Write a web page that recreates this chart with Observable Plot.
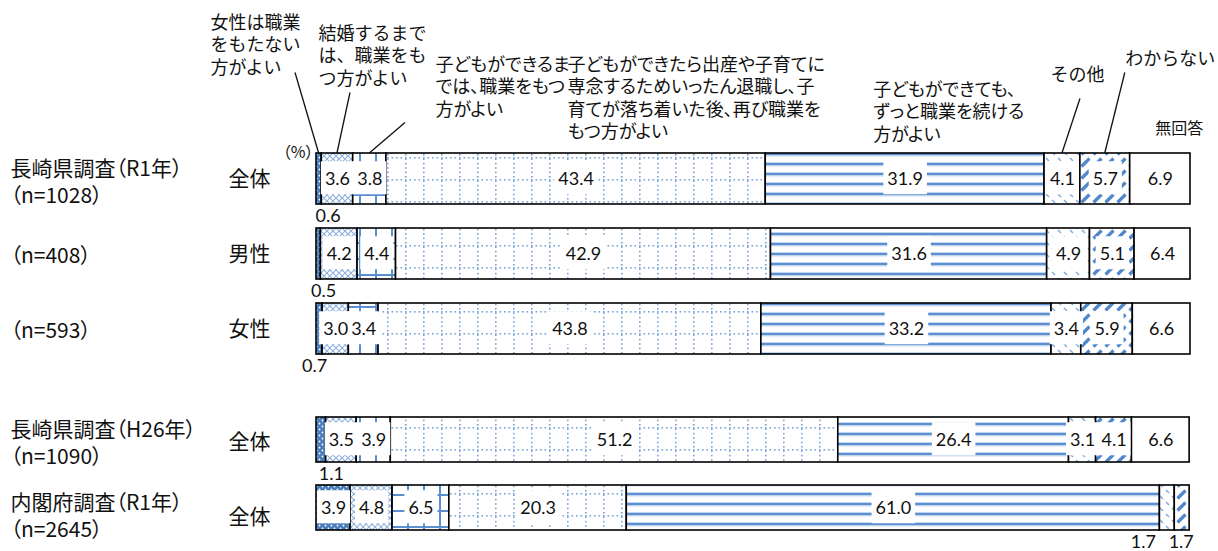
<!DOCTYPE html>
<html><head><meta charset="utf-8">
<script src="https://cdn.jsdelivr.net/npm/d3@7"></script>
<script src="https://cdn.jsdelivr.net/npm/@observablehq/plot@0.6"></script>
<style>
html,body{margin:0;padding:0;background:#fff;}
#chart{width:1218px;}
#chart svg{display:block;background:#fff;}
#chart svg text{font-feature-settings:"palt";}
#chart svg g[fill="#121212"] text{font-feature-settings:normal;}
</style></head><body>
<svg id="defs" width="0" height="0" style="position:absolute;left:0;top:0"></svg>
<div id="chart"></div>
<script>
// ---------------- data ----------------
const categories = [
  "女性は職業をもたない方がよい",
  "結婚するまでは、職業をもつ方がよい",
  "子どもができるまでは、職業をもつ方がよい",
  "子どもができたら出産や子育てに専念するためいったん退職し、子育てが落ち着いた後、再び職業をもつ方がよい",
  "子どもができても、ずっと職業を続ける方がよい",
  "その他",
  "わからない",
  "無回答"
];
const categoryLines = [
  "女性は職業\nをもたない\n方がよい",
  "結婚するまで\nは、職業をも\nつ方がよい",
  "子どもができるま\nでは、職業をもつ\n方がよい",
  "子どもができたら出産や子育てに\n専念するためいったん退職し、子\n育てが落ち着いた後、再び職業を\nもつ方がよい",
  "子どもができても、\nずっと職業を続ける\n方がよい",
  "その他",
  "わからない",
  "無回答"
];
const rowKeys = ["r1all", "r1male", "r1female", "h26all", "caoall"];
const groupLabels = ["長崎県調査（R1年）\n（n=1028）", "（n=408）", "（n=593）", "長崎県調査（H26年）\n（n=1090）", "内閣府調査（R1年）\n（n=2645）"];
const subLabels = ["全体", "男性", "女性", "全体", "全体"];
const valuesR1All    = [0.6, 3.6, 3.8, 43.4, 31.9, 4.1, 5.7, 6.9];
const valuesR1Male   = [0.5, 4.2, 4.4, 42.9, 31.6, 4.9, 5.1, 6.4];
const valuesR1Female = [0.7, 3.0, 3.4, 43.8, 33.2, 3.4, 5.9, 6.6];
const valuesH26All   = [1.1, 3.5, 3.9, 51.2, 26.4, 3.1, 4.1, 6.6];
const valuesCaoAll   = [3.9, 4.8, 6.5, 20.3, 61.0, 1.7, 1.7, null];
const unitLabel = "（%）";

// ---------------- derived table ----------------
const seriesByRow = [valuesR1All, valuesR1Male, valuesR1Female, valuesH26All, valuesCaoAll];
const table = [];
seriesByRow.forEach((vals, i) => {
  let cum = 0;
  vals.forEach((v, j) => {
    if (v == null) return;
    table.push({row: rowKeys[i], cat: categories[j], ci: j, value: v, x1: cum, x2: cum + v, mid: cum + v / 2});
    cum += v;
  });
});
const rowsInfo = rowKeys.map((k, i) => ({row: k, group: groupLabels[i], sub: subLabels[i]}));

// ---------------- patterns ----------------
const patternUrls = categories.map((c, i) => `url(#pat${i})`);
const defs = d3.select("#defs").append("defs");
function pat(id, w, h, build) {
  const p = defs.append("pattern").attr("id", id).attr("patternUnits", "userSpaceOnUse")
    .attr("width", w).attr("height", h);
  build(p);
}
pat("pat0", 6, 6, p => {
  p.append("rect").attr("width", 6).attr("height", 6).attr("fill", "#4a7ebb");
  p.append("circle").attr("cx", 1.5).attr("cy", 1.5).attr("r", 0.9).attr("fill", "#fff");
  p.append("circle").attr("cx", 4.5).attr("cy", 4.5).attr("r", 0.9).attr("fill", "#fff");
});
pat("pat1", 6, 6, p => {
  p.append("rect").attr("width", 6).attr("height", 6).attr("fill", "#fff");
  p.append("path").attr("d", "M0,0L6,6M6,0L0,6").attr("stroke", "#8fb0dc").attr("stroke-width", 1.1);
});
pat("pat2", 16, 16, p => {
  p.append("rect").attr("width", 16).attr("height", 16).attr("fill", "#fff");
  p.append("rect").attr("x", 0).attr("y", 2).attr("width", 16).attr("height", 2).attr("fill", "#5b8fd0");
  p.append("rect").attr("x", 7).attr("y", 0).attr("width", 2).attr("height", 16).attr("fill", "#5b8fd0");
});
pat("pat3", 18, 22, p => {
  p.append("rect").attr("width", 18).attr("height", 22).attr("fill", "#fff");
  for (let x = 0; x < 18; x += 4.5) p.append("rect").attr("x", x).attr("y", 3).attr("width", 1.6).attr("height", 1.6).attr("fill", "#7aa3da");
  for (let y = 0; y < 22; y += 4.4) p.append("rect").attr("x", 9).attr("y", y).attr("width", 1.6).attr("height", 1.6).attr("fill", "#7aa3da");
});
pat("pat4", 10, 10, p => {
  p.append("rect").attr("width", 10).attr("height", 10).attr("fill", "#fff");
  p.append("rect").attr("x", 0).attr("y", 2).attr("width", 10).attr("height", 1).attr("fill", "#c3d6f0");
  p.append("rect").attr("x", 0).attr("y", 3).attr("width", 10).attr("height", 2.4).attr("fill", "#5b8fd0");
  p.append("rect").attr("x", 0).attr("y", 5.4).attr("width", 10).attr("height", 1).attr("fill", "#c3d6f0");
});
pat("pat5", 12, 12, p => {
  p.append("rect").attr("width", 12).attr("height", 12).attr("fill", "#fff");
  p.append("path").attr("d", "M2,2L5,5M8,8L11,11").attr("stroke", "#86aee0").attr("stroke-width", 1.6);
});
pat("pat6", 12, 12, p => {
  p.append("rect").attr("width", 12).attr("height", 12).attr("fill", "#fff");
  p.append("path").attr("d", "M1.5,10.5L9.5,2.5").attr("stroke", "#4f86cc").attr("stroke-width", 3.2);
});
pat("pat7", 4, 4, p => {
  p.append("rect").attr("width", 4).attr("height", 4).attr("fill", "#fff");
});

// ---------------- layout styles ----------------
const FONT = "Noto Sans CJK JP";
const NUMFONT = "Lato";
const VALUE_FILL = "#101011";   // used to find the in-bar value labels
const NOPALT_FILL = "#121212";  // texts set with full-width (non-proportional) glyphs
const annotLayout = [
  {dx: -108.6, dy: -166, leader: [-23.6, -80.5], fixed: true},
  {dx: -19, dy: -155, leader: [13, -60.5], fixed: true},
  {dx: 65.7, dy: -124, leader: [35.7, -30.5]},
  {dx: -8.6, dy: -124, leader: null},
  {dx: -32, dy: -99, leader: null},
  {dx: -12, dy: -114, leader: [18, -54.5], fixed: true},
  {dx: 20, dy: -130, leader: [20, -80.5], fixed: true},
  {dx: -5, dy: -59, leader: null, fontSize: 16, fixed: true}
];
const outsideDx = {"r1all|0": 9, "r1male|0": 5, "r1female|0": -5, "h26all|0": 10, "caoall|5": -24, "caoall|6": -1};

function buildPlot(rows, opts) {
  const data = table.filter(d => rows.includes(d.row));
  const info = rowsInfo.filter(d => rows.includes(d.row));
  const inside = data.filter(d => d.value >= 2);
  const outside = data.filter(d => d.value < 2);
  const half = opts.band / 2;
  const marks = [
    Plot.barX(data, {x1: "x1", x2: "x2", y: "row", fill: "cat", stroke: "#000", strokeWidth: 1.6}),
    Plot.text(inside, {x: "mid", y: "row", text: d => d.value.toFixed(1), fontFamily: NUMFONT, fontSize: 18, fill: VALUE_FILL,
      ariaDescription: "value-label"}),
    ...outside.map(d => Plot.text([d], {x: "mid", y: "row", text: d => d.value.toFixed(1), fontFamily: NUMFONT, fontSize: 18, fill: "#111",
      dy: half + 12, dx: outsideDx[d.row + "|" + d.ci] || 0})),
    ...info.map(d => Plot.text([d], {y: "row", text: "group", frameAnchor: "left", textAnchor: "start", dx: -306,
      dy: (opts.groupDy[d.row] || 0), lineHeight: 1.3, fontFamily: FONT, fontSize: 21, fill: "#111"})),
    ...info.map(d => Plot.text([d], {y: "row", text: "sub", frameAnchor: "left", textAnchor: "start", dx: -88,
      dy: (opts.subDy[d.row] || 0), fontFamily: FONT, fontSize: 21, fill: "#111"}))
  ];
  if (opts.annotate) {
    const first = data.filter(d => d.row === rows[0]);
    first.forEach(d => {
      const L = annotLayout[d.ci];
      marks.push(Plot.text([d], {x: "mid", y: "row", text: dd => categoryLines[dd.ci], textAnchor: "start", lineAnchor: "top",
        dx: L.dx, dy: L.dy, lineHeight: 1.25, fontFamily: FONT, fontSize: L.fontSize || 18,
        fill: L.fixed ? NOPALT_FILL : "#111"}));
    });
    marks.push(Plot.text([first[0]], {x: () => 0, y: "row", text: () => unitLabel, textAnchor: "end", dx: -3, dy: -26,
      fontFamily: FONT, fontSize: 16, fill: "#111"}));
  }
  return Plot.plot({
    width: 1218, height: opts.height,
    marginLeft: 316, marginRight: 28, marginTop: 0, marginBottom: 0,
    x: {domain: [0, 100], axis: null},
    y: {domain: rows, range: opts.range, padding: opts.padding, axis: null},
    color: {domain: categories, range: patternUrls},
    style: {fontFamily: FONT, background: "#fff", overflow: "visible"},
    marks
  });
}

const chart = document.getElementById("chart");
const topPlot = buildPlot(rowKeys.slice(0, 3), {height: 380, range: [128.5, 377.5], padding: 0.32, band: 51, annotate: true,
  groupDy: {r1all: 2}, subDy: {}});
const botPlot = buildPlot(rowKeys.slice(3), {height: 171, range: [14.5, 173.5], padding: 0.338, band: 45, annotate: false,
  groupDy: {h26all: 2, caoall: 7}, subDy: {h26all: 2, caoall: 9}});
chart.appendChild(topPlot);
chart.appendChild(botPlot);

// white boxes behind in-bar value labels
[topPlot, botPlot].forEach(svg => {
  const groups = new Set();
  svg.querySelectorAll('g[aria-description="value-label"]').forEach(g => groups.add(g));
  svg.querySelectorAll("g").forEach(g => { if ((g.getAttribute("fill") || "").toLowerCase() === VALUE_FILL) groups.add(g); });
  groups.forEach(g => {
    const texts = Array.from(g.querySelectorAll("text"));
    const rects = [];
    texts.forEach(t => {
      const bb = t.getBBox();
      if (!bb.width) return;
      const cy = bb.y + bb.height / 2;
      const r = document.createElementNS("http://www.w3.org/2000/svg", "rect");
      r.setAttribute("x", bb.x - 4);
      r.setAttribute("width", bb.width + 8);
      r.setAttribute("y", cy - 16.5);
      r.setAttribute("height", 33);
      r.setAttribute("fill", "#fff");
      const tr = t.getAttribute("transform");
      if (tr) r.setAttribute("transform", tr);
      rects.push(r);
    });
    rects.forEach(r => g.insertBefore(r, g.firstChild));
  });
});

// leader lines from annotations to the first bar
{
  const sx = topPlot.scale("x"), sy = topPlot.scale("y");
  const first = table.filter(d => d.row === rowKeys[0]);
  const g = d3.select(topPlot).append("g").attr("aria-label", "leaders");
  first.forEach(d => {
    const L = annotLayout[d.ci];
    if (!L.leader) return;
    const x = sx.apply(d.mid), y = sy.apply(d.row);
    g.append("line").attr("x1", x + L.leader[0]).attr("y1", y + L.leader[1]).attr("x2", x).attr("y2", y)
      .attr("stroke", "#111").attr("stroke-width", 1.3);
  });
}
</script>
</body></html>
